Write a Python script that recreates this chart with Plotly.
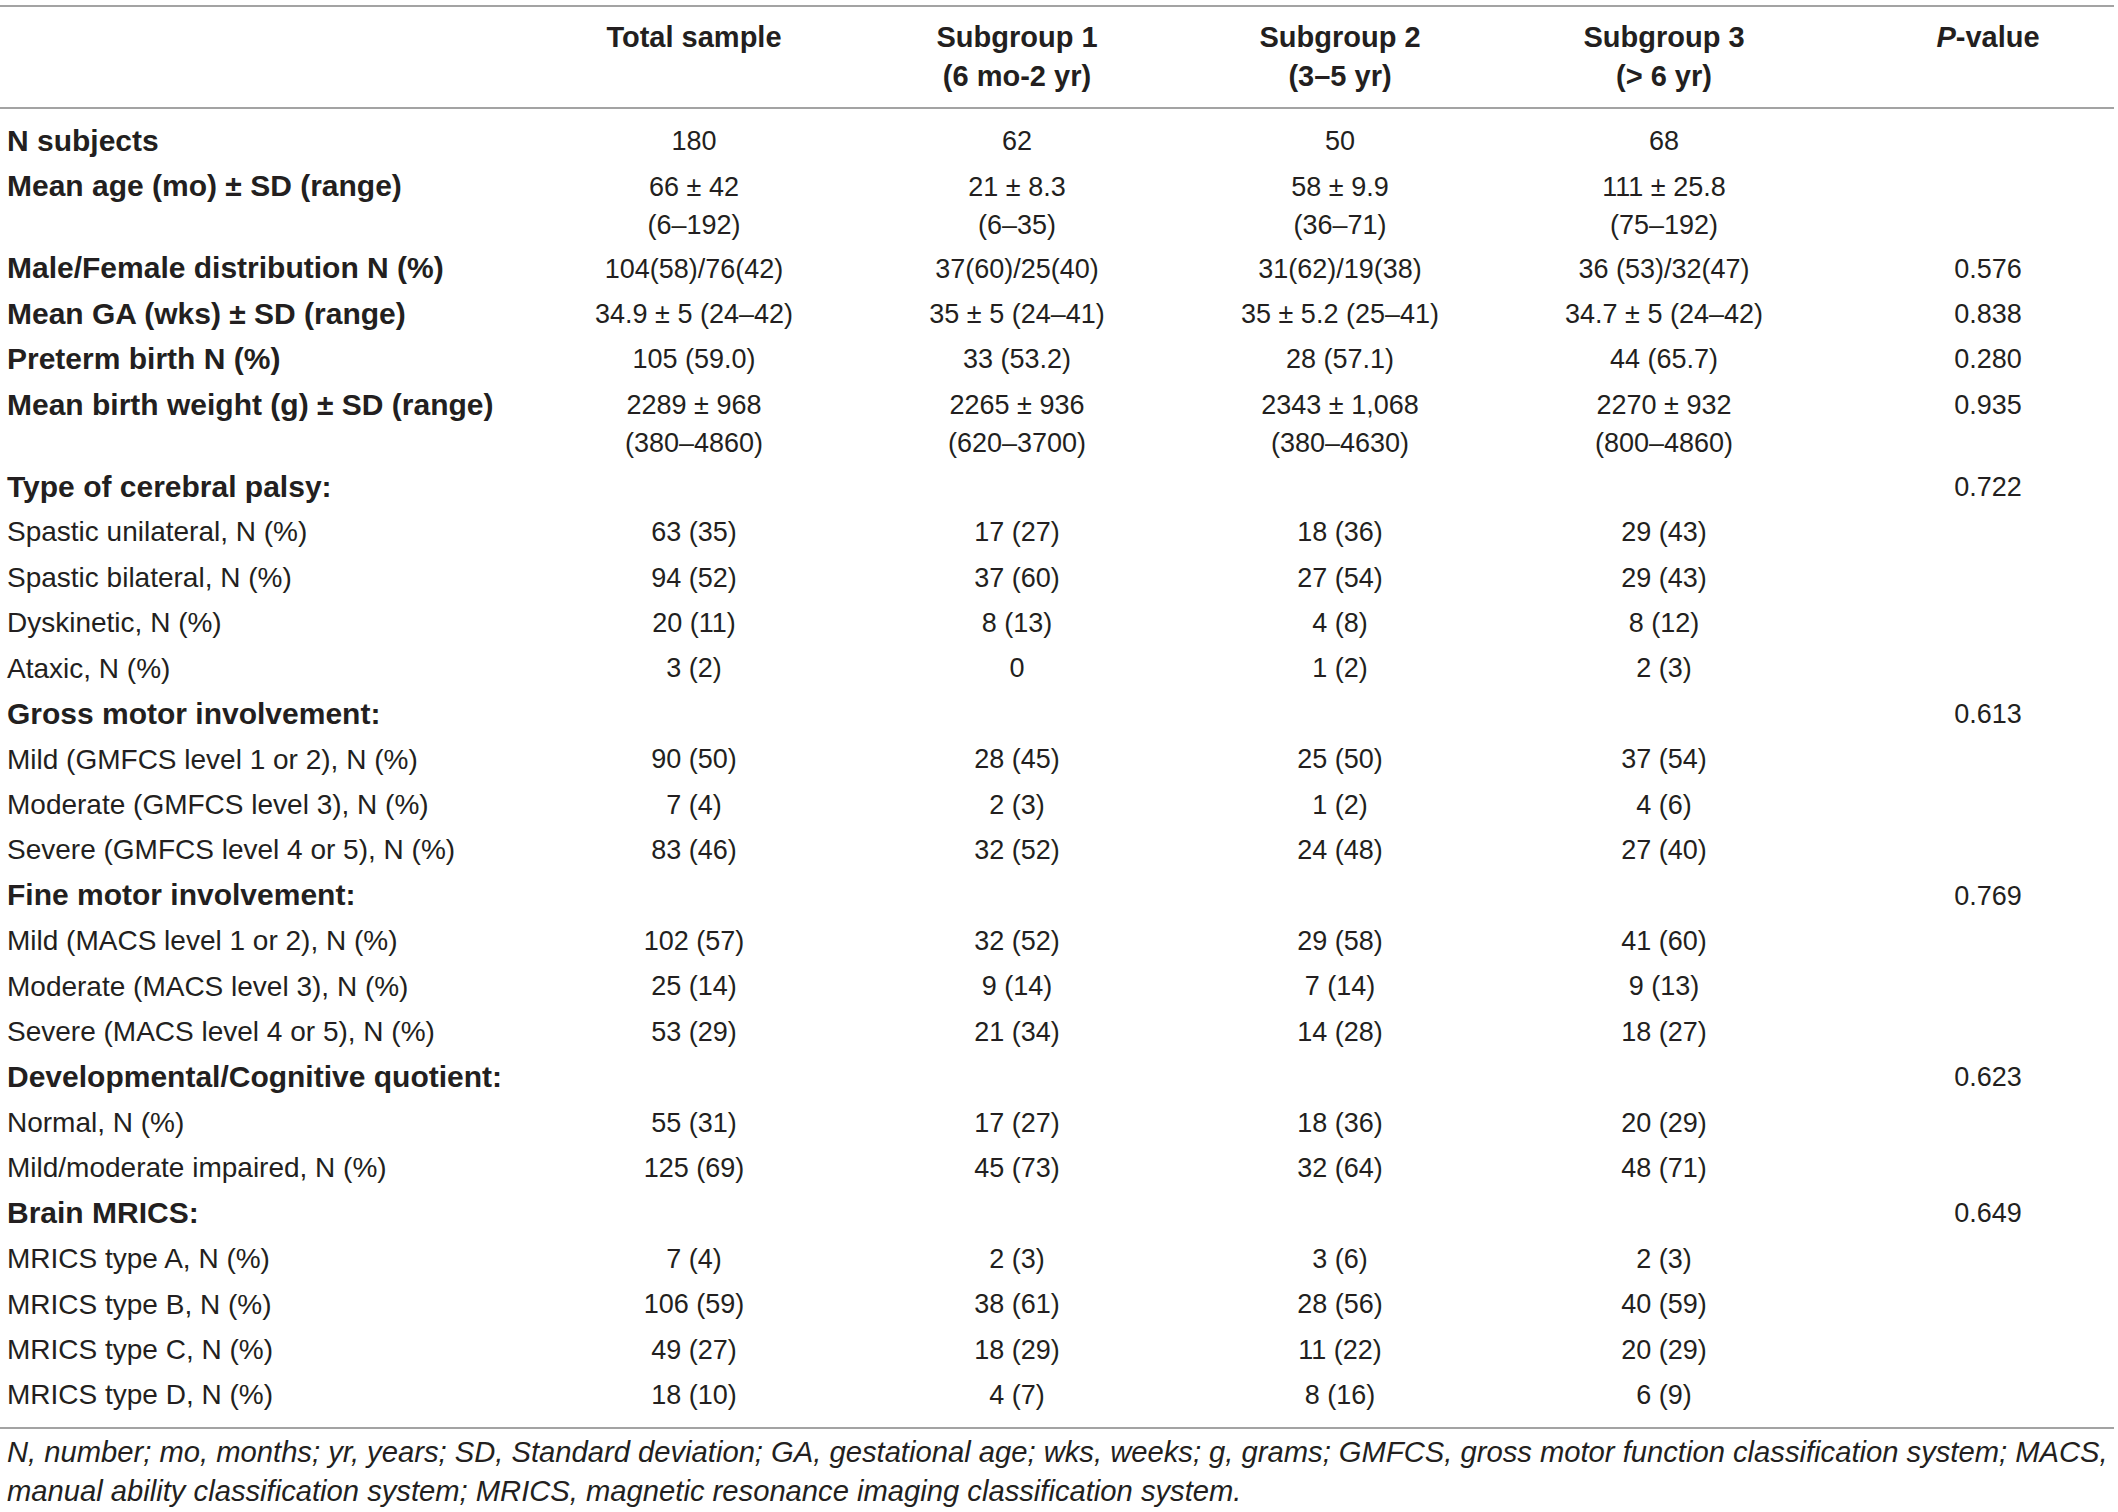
import plotly.graph_objects as go

# ---------------- data ----------------
col_headers = [
    "Total sample",
    "Subgroup 1\n(6 mo-2 yr)",
    "Subgroup 2\n(3–5 yr)",
    "Subgroup 3\n(> 6 yr)",
    "<i>P</i>-value",
]

row_labels = [
    "N subjects",
    "Mean age (mo) ± SD (range)",
    "Male/Female distribution N (%)",
    "Mean GA (wks) ± SD (range)",
    "Preterm birth N (%)",
    "Mean birth weight (g) ± SD (range)",
    "Type of cerebral palsy:",
    "Spastic unilateral, N (%)",
    "Spastic bilateral, N (%)",
    "Dyskinetic, N (%)",
    "Ataxic, N (%)",
    "Gross motor involvement:",
    "Mild (GMFCS level 1 or 2), N (%)",
    "Moderate (GMFCS level 3), N (%)",
    "Severe (GMFCS level 4 or 5), N (%)",
    "Fine motor involvement:",
    "Mild (MACS level 1 or 2), N (%)",
    "Moderate (MACS level 3), N (%)",
    "Severe (MACS level 4 or 5), N (%)",
    "Developmental/Cognitive quotient:",
    "Normal, N (%)",
    "Mild/moderate impaired, N (%)",
    "Brain MRICS:",
    "MRICS type A, N (%)",
    "MRICS type B, N (%)",
    "MRICS type C, N (%)",
    "MRICS type D, N (%)",
]

bold_rows = [
    True, True, True, True, True, True, True,
    False, False, False, False,
    True, False, False, False,
    True, False, False, False,
    True, False, False,
    True, False, False, False, False,
]

total_sample = [
    "180", "66 ± 42\n(6–192)", "104(58)/76(42)", "34.9 ± 5 (24–42)", "105 (59.0)",
    "2289 ± 968\n(380–4860)", "",
    "63 (35)", "94 (52)", "20 (11)", "3 (2)", "",
    "90 (50)", "7 (4)", "83 (46)", "",
    "102 (57)", "25 (14)", "53 (29)", "",
    "55 (31)", "125 (69)", "",
    "7 (4)", "106 (59)", "49 (27)", "18 (10)",
]

subgroup1 = [
    "62", "21 ± 8.3\n(6–35)", "37(60)/25(40)", "35 ± 5 (24–41)", "33 (53.2)",
    "2265 ± 936\n(620–3700)", "",
    "17 (27)", "37 (60)", "8 (13)", "0", "",
    "28 (45)", "2 (3)", "32 (52)", "",
    "32 (52)", "9 (14)", "21 (34)", "",
    "17 (27)", "45 (73)", "",
    "2 (3)", "38 (61)", "18 (29)", "4 (7)",
]

subgroup2 = [
    "50", "58 ± 9.9\n(36–71)", "31(62)/19(38)", "35 ± 5.2 (25–41)", "28 (57.1)",
    "2343 ± 1,068\n(380–4630)", "",
    "18 (36)", "27 (54)", "4 (8)", "1 (2)", "",
    "25 (50)", "1 (2)", "24 (48)", "",
    "29 (58)", "7 (14)", "14 (28)", "",
    "18 (36)", "32 (64)", "",
    "3 (6)", "28 (56)", "11 (22)", "8 (16)",
]

subgroup3 = [
    "68", "111 ± 25.8\n(75–192)", "36 (53)/32(47)", "34.7 ± 5 (24–42)", "44 (65.7)",
    "2270 ± 932\n(800–4860)", "",
    "29 (43)", "29 (43)", "8 (12)", "2 (3)", "",
    "37 (54)", "4 (6)", "27 (40)", "",
    "41 (60)", "9 (13)", "18 (27)", "",
    "20 (29)", "48 (71)", "",
    "2 (3)", "40 (59)", "20 (29)", "6 (9)",
]

p_values = [
    "", "", "0.576", "0.838", "0.280", "0.935", "0.722",
    "", "", "", "", "0.613",
    "", "", "", "0.769",
    "", "", "", "0.623",
    "", "", "0.649",
    "", "", "", "",
]

footnote_lines = [
    "N, number; mo, months; yr, years; SD, Standard deviation; GA, gestational age; wks, weeks; "
    "g, grams; GMFCS, gross motor function classification system; MACS,",
    "manual ability classification system; MRICS, magnetic resonance imaging classification system.",
]

# ---------------- layout constants ----------------
W, H = 2118, 1512
FONT = "Liberation Sans, Arial, sans-serif"
INK = "#231f20"
RULE = "#a3a3a3"
SIZE_VAL = 27
SIZE_LABEL = 28
SIZE_HEAD = 29
SIZE_BOLD = 30
SIZE_FOOT = 29.2
LABEL_X = 7
COL_X = [694, 1017, 1340, 1664, 1988]
HEADER_Y = 40
HEADER_GAP = 39
Y0 = 143.5
ROW_H = 45.42
LINE_GAP = 38.5
EXTRA = 36.5
RULES_Y = [6, 108, 1428]
FOOT_Y = 1455
FOOT_GAP = 38.5

columns = [total_sample, subgroup1, subgroup2, subgroup3, p_values]

# row y positions derived from row order and number of lines
row_y = []
y = Y0
for i in range(len(row_labels)):
    nlines = max(len(c[i].split("\n")) for c in columns)
    row_y.append(y)
    y += ROW_H + (nlines - 1) * EXTRA

fig = go.Figure()

# header
hx, hy, ht = [], [], []
for cx, head in zip(COL_X, col_headers):
    for k, line in enumerate(head.split("\n")):
        hx.append(cx)
        hy.append(HEADER_Y + k * HEADER_GAP)
        ht.append("<b>" + line + "</b>")
fig.add_trace(go.Scatter(x=hx, y=hy, text=ht, mode="text", textposition="middle center",
                         textfont=dict(family=FONT, size=SIZE_HEAD, color=INK), hoverinfo="skip"))

# row labels
bx, by, bt, rx, ry, rt = [], [], [], [], [], []
for lab, b, yy in zip(row_labels, bold_rows, row_y):
    if b:
        bx.append(LABEL_X); by.append(yy); bt.append("<b>" + lab + "</b>")
    else:
        rx.append(LABEL_X); ry.append(yy); rt.append(lab)
fig.add_trace(go.Scatter(x=bx, y=by, text=bt, mode="text", textposition="middle right",
                         textfont=dict(family=FONT, size=SIZE_BOLD, color=INK), hoverinfo="skip"))
fig.add_trace(go.Scatter(x=rx, y=ry, text=rt, mode="text", textposition="middle right",
                         textfont=dict(family=FONT, size=SIZE_LABEL, color=INK), hoverinfo="skip"))

# cell values
for cx, col in zip(COL_X, columns):
    vx, vy, vt = [], [], []
    for val, yy in zip(col, row_y):
        if not val:
            continue
        for k, line in enumerate(val.split("\n")):
            vx.append(cx); vy.append(yy + k * LINE_GAP); vt.append(line)
    fig.add_trace(go.Scatter(x=vx, y=vy, text=vt, mode="text", textposition="middle center",
                             textfont=dict(family=FONT, size=SIZE_VAL, color=INK), hoverinfo="skip"))

# footnote
fig.add_trace(go.Scatter(x=[LABEL_X] * len(footnote_lines),
                         y=[FOOT_Y + k * FOOT_GAP for k in range(len(footnote_lines))],
                         text=["<i>" + t + "</i>" for t in footnote_lines],
                         mode="text", textposition="middle right",
                         textfont=dict(family=FONT, size=SIZE_FOOT, color=INK), hoverinfo="skip"))

for ry_ in RULES_Y:
    fig.add_shape(type="line", xref="x", yref="y", x0=0, x1=W - 4, y0=ry_, y1=ry_,
                  line=dict(color=RULE, width=2.2))

fig.update_layout(
    width=W, height=H, margin=dict(l=0, r=0, t=0, b=0),
    paper_bgcolor="white", plot_bgcolor="white", showlegend=False,
    xaxis=dict(range=[0, W], visible=False, fixedrange=True),
    yaxis=dict(range=[H, 0], visible=False, fixedrange=True),
)

fig.write_html("out.html", config={"displayModeBar": False, "staticPlot": True},
               post_script="document.body.style.margin='0';document.body.style.overflow='hidden';")
